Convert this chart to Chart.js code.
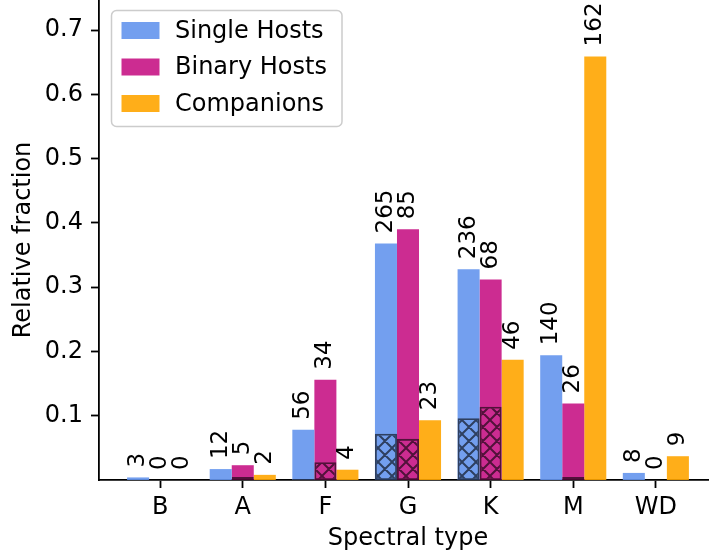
<!DOCTYPE html>
<html>
<head>
<meta charset="utf-8">
<script src="https://cdn.jsdelivr.net/npm/chart.js@4/dist/chart.umd.min.js"></script>
<style>
  html, body { margin: 0; padding: 0; background: #fff; overflow: hidden; }
  canvas { display: block; }
</style>
</head>
<body>
<canvas id="specChart" width="720" height="558"></canvas>
<script>
// spectral types on the x axis
const categories = ['B', 'A', 'F', 'G', 'K', 'M', 'WD'];

// relative fractions (bar heights)
const singleFrac = [0.004, 0.017, 0.078, 0.368, 0.328, 0.194, 0.011];
const binaryFrac = [0, 0.023, 0.156, 0.390, 0.312, 0.119, 0];
const compFrac = [0, 0.008, 0.016, 0.093, 0.187, 0.659, 0.037];

// counts written above each bar
const singleCounts = [3, 12, 56, 265, 236, 140, 8];
const binaryCounts = [0, 5, 34, 85, 68, 26, 0];
const compCounts = [0, 2, 4, 23, 46, 162, 9];

// hatched part at the bottom of the host bars
const singleHatched = [null, null, 0.0014, 0.072, 0.096, null, null];
const binaryHatched = [null, 0.0046, 0.0275, 0.064, 0.114, 0.0046, null];

const yTicks = [0.1, 0.2, 0.3, 0.4, 0.5, 0.6, 0.7];

function toPoints(arr) {
  return arr.map((v, i) => ({ x: i, y: v }));
}

// cross hatch like matplotlib 'xx'
function makeHatch() {
  const size = 14;
  const c = document.createElement('canvas');
  c.width = size; c.height = size;
  const g = c.getContext('2d');
  g.strokeStyle = 'rgba(0,0,0,0.6)';
  g.lineWidth = 2;
  g.beginPath();
  for (const k of [-size, 0, size]) {
    g.moveTo(k, 0); g.lineTo(k + size, size);
    g.moveTo(k, size); g.lineTo(k + size, 0);
  }
  g.stroke();
  return g.createPattern(c, 'repeat');
}
const hatch = makeHatch();

Chart.defaults.font.family = "'DejaVu Sans', sans-serif";
Chart.defaults.font.size = 24;
Chart.defaults.color = '#000';

// legend box inside the plot, top left
const legendBox = {
  id: 'legendBox',
  afterDraw(chart) {
    const ctx = chart.ctx;
    const items = chart.data.datasets.filter(d => !d.hatched);
    ctx.save();
    ctx.beginPath();
    ctx.roundRect(111.5, 10.5, 230.5, 116, 5);
    ctx.fillStyle = 'rgba(255,255,255,0.8)';
    ctx.fill();
    ctx.strokeStyle = '#cccccc';
    ctx.lineWidth = 1.5;
    ctx.stroke();
    ctx.font = "24px 'DejaVu Sans'";
    ctx.textBaseline = 'middle';
    ctx.textAlign = 'left';
    items.forEach((d, i) => {
      const cy = 30.5 + i * 36.5;
      ctx.fillStyle = d.backgroundColor;
      ctx.fillRect(121.5, cy - 8.5, 38, 17);
      ctx.fillStyle = '#000';
      ctx.fillText(d.label, 175, cy + 1);
    });
    ctx.restore();
  }
};

// rotated count labels above the bars
const countLabels = {
  id: 'countLabels',
  afterDatasetsDraw(chart) {
    const ctx = chart.ctx;
    ctx.save();
    ctx.font = "23px 'DejaVu Sans'";
    ctx.fillStyle = '#000';
    ctx.textAlign = 'left';
    ctx.textBaseline = 'middle';
    chart.data.datasets.forEach((d, di) => {
      if (d.hatched) return;
      const meta = chart.getDatasetMeta(di);
      meta.data.forEach((bar, j) => {
        ctx.save();
        ctx.translate(bar.x, bar.y - 10);
        ctx.rotate(-Math.PI / 2);
        ctx.fillText(String(d.counts[j]), 0, 0);
        ctx.restore();
      });
    });
    ctx.restore();
  }
};

function noPad(s) {
  s.paddingTop = 0; s.paddingBottom = 0;
  s.paddingLeft = 0; s.paddingRight = 0;
}

new Chart(document.getElementById('specChart'), {
  type: 'bar',
  data: {
    datasets: [
      { label: 'Single Hosts', data: toPoints(singleFrac), counts: singleCounts, stack: 's',
        backgroundColor: 'rgba(100,149,237,0.9)', order: 1 },
      { label: 'Binary Hosts', data: toPoints(binaryFrac), counts: binaryCounts, stack: 'b',
        backgroundColor: 'rgba(199,21,133,0.9)', order: 1 },
      { label: 'Companions', data: toPoints(compFrac), counts: compCounts, stack: 'c',
        backgroundColor: 'rgba(255,165,0,0.9)', order: 1 },
      { label: 'single hatched', hatched: true, data: toPoints(singleHatched), stack: 's',
        backgroundColor: hatch, borderColor: 'rgba(0,0,0,0.6)', borderWidth: 1.8,
        borderSkipped: false, order: 0 },
      { label: 'binary hatched', hatched: true, data: toPoints(binaryHatched), stack: 'b',
        backgroundColor: hatch, borderColor: 'rgba(0,0,0,0.6)', borderWidth: 1.8,
        borderSkipped: false, order: 0 }
    ]
  },
  options: {
    responsive: false,
    animation: false,
    devicePixelRatio: 1,
    categoryPercentage: 0.8,
    barPercentage: 1.0,
    layout: { padding: { left: 0, right: 3, top: 0, bottom: 0 } },
    plugins: {
      legend: { display: false },
      tooltip: { enabled: false }
    },
    scales: {
      x: {
        type: 'linear',
        offset: false,
        min: -0.74,
        max: 6.74,
        afterBuildTicks: s => { s.ticks = categories.map((c, i) => ({ value: i })); },
        afterFit: s => { s.height = 78; noPad(s); },
        ticks: {
          callback: v => categories[v],
          autoSkip: false,
          maxRotation: 0,
          padding: 5
        },
        grid: { display: true, offset: false, drawOnChartArea: false, drawTicks: true, tickLength: 8,
                tickColor: '#000', tickWidth: 1.8 },
        border: { display: true, color: '#000', width: 1.8 },
        title: { display: true, text: 'Spectral type', padding: { top: 0, bottom: 5 } }
      },
      y: {
        stacked: false,
        min: 0,
        max: 0.7467,
        afterBuildTicks: s => { s.ticks = yTicks.map(v => ({ value: v })); },
        afterFit: s => { s.width = 99; noPad(s); },
        ticks: {
          callback: v => v.toFixed(1),
          padding: 8
        },
        grid: { display: true, drawOnChartArea: false, drawTicks: true, tickLength: 8,
                tickColor: '#000', tickWidth: 1.8 },
        border: { display: true, color: '#000', width: 1.8 },
        title: { display: true, text: 'Relative fraction', padding: { top: 9, bottom: 0 } }
      }
    }
  },
  plugins: [countLabels, legendBox]
});
</script>
</body>
</html>
